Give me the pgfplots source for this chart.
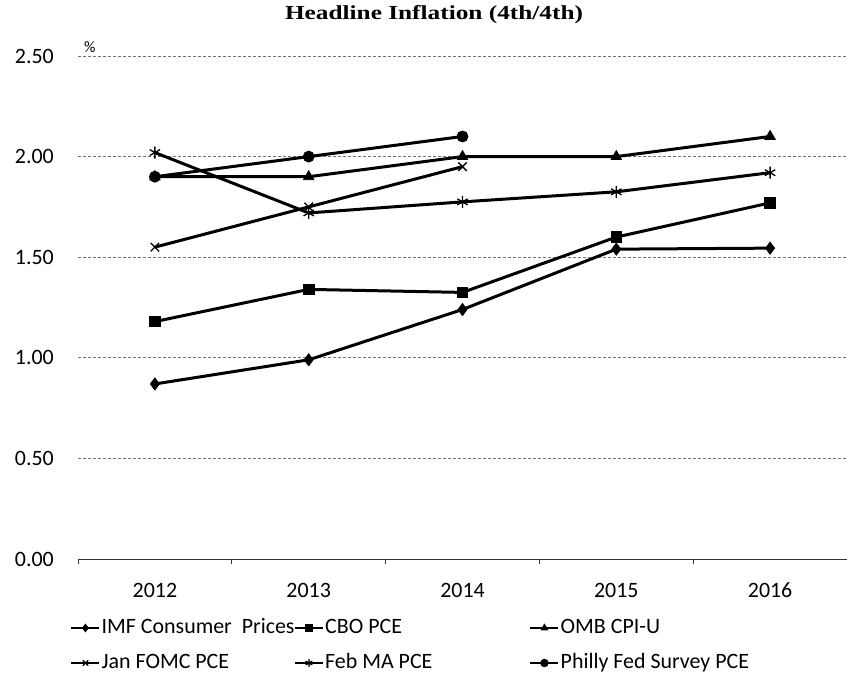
\documentclass[border=0pt]{standalone}
\usepackage{fontspec}
\setmainfont{Carlito}
\newfontfamily\titlefont[FakeStretch=1.27]{Liberation Serif}
\usepackage{pgfplots}
\pgfplotsset{compat=1.18}
\begin{document}
\begin{tikzpicture}
\useasboundingbox (-78bp,-130bp) rectangle (769bp,559bp);
\begin{axis}[
  at={(0,0)}, anchor=south west,
  scale only axis, width=769bp, height=503bp,
  xmin=-0.5, xmax=4.5, ymin=0, ymax=2.5,
  clip=false,
  axis x line*=bottom, axis y line*=left,
  y axis line style={draw=none},
  x axis line style={line width=0.8bp, black!80},
  xtick={0,1,2,3,4}, xticklabels={2012,2013,2014,2015,2016},
  minor xtick={-0.5,0.5,1.5,2.5,3.5,4.5},
  major tick length=0pt, minor tick length=5bp, tick align=outside,
  minor tick style={line width=0.8bp, black!80},
  ytick={0,0.5,1,1.5,2,2.5},
  ymajorgrids,
  grid style={line width=0.7bp, gray!90!black, dash pattern=on 3bp off 2bp},
  tick label style={font=\fontsize{22}{26}\selectfont},
  yticklabel style={anchor=east, inner sep=0pt, xshift=-24bp,
    /pgf/number format/.cd, fixed, fixed zerofill, precision=2, assume math mode=true},
  xticklabel style={anchor=base, yshift=-38bp},
  title={\titlefont\bfseries Headline Inflation (4th/4th)},
  title style={at={(0.463,1)}, anchor=base, yshift=31bp, font=\fontsize{20}{24}\selectfont},
  legend columns=3,
  legend cell align=left,
  legend style={draw=none, fill=none, at={(-0.0104,-0.172)}, anchor=west,
    inner sep=0pt, row sep=12bp, font=\fontsize{22}{26}\selectfont,
    nodes={inner sep=1bp, text height=16bp, text depth=5bp}},
  legend image code/.code={\draw[mark repeat=2, mark phase=2, line width=2.5bp, mark size=3.8bp]
    plot coordinates {(0bp,0bp) (14bp,0bp) (28bp,0bp)};},
  every axis plot/.append style={black, line width=3bp},
]
\addplot[mark=diamond*, mark size=6bp, mark options={solid, fill=black, line width=0.8bp}]
  coordinates {(0,0.87) (1,0.99) (2,1.24) (3,1.54) (4,1.545)};
\addlegendentry{\makebox[191bp][l]{IMF Consumer~ Prices}}
\addplot[mark=square*, mark size=5.3bp, mark options={solid, fill=black, line width=0.8bp}]
  coordinates {(0,1.18) (1,1.34) (2,1.325) (3,1.60) (4,1.77)};
\addlegendentry{\makebox[203bp][l]{CBO PCE}}
\addplot[mark=triangle*, mark size=6bp, mark options={solid, fill=black, line width=0.8bp}]
  coordinates {(0,1.90) (1,1.90) (2,2.00) (3,2.00) (4,2.10)};
\addlegendentry{OMB CPI-U}
\addplot[mark=x, mark size=6bp, mark options={solid, line width=1.3bp}]
  coordinates {(0,1.55) (1,1.75) (2,1.95)};
\addlegendentry{\makebox[191bp][l]{Jan FOMC PCE}}
\addplot[mark=asterisk, mark size=6bp, mark options={solid, line width=1.3bp}]
  coordinates {(0,2.02) (1,1.72) (2,1.775) (3,1.825) (4,1.92)};
\addlegendentry{\makebox[203bp][l]{Feb MA PCE}}
\addplot[mark=*, mark size=5.5bp, mark options={solid, fill=black, line width=0.8bp}]
  coordinates {(0,1.90) (1,2.00) (2,2.10)};
\addlegendentry{Philly Fed Survey PCE}
\node[anchor=base west, inner sep=0pt, font=\fontsize{16}{19}\selectfont]
  at (rel axis cs:0,1) [xshift=6bp, yshift=3bp] {\%};
\end{axis}
\end{tikzpicture}
\end{document}
